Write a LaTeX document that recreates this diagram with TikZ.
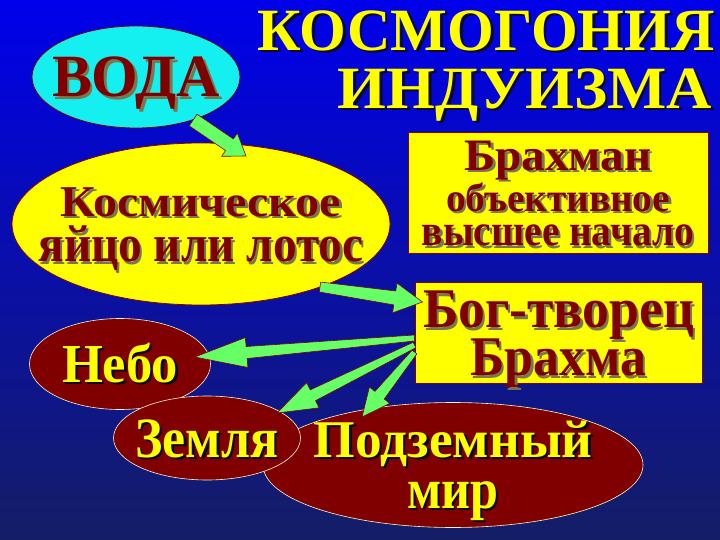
\documentclass[tikz,border=0pt]{standalone}
\usepackage{fontspec}
\setmainfont{Liberation Serif}
\usepackage{graphicx}
\usetikzlibrary{shapes.geometric,calc}
\definecolor{bgtop}{RGB}{0,0,235}
\definecolor{bgmid}{RGB}{5,15,190}
\definecolor{bgbot}{RGB}{20,30,100}
\definecolor{mar}{RGB}{128,0,0}
\definecolor{yel}{RGB}{255,255,0}
\definecolor{cyn}{RGB}{20,240,240}
\definecolor{grn}{RGB}{102,255,102}
\definecolor{shdark}{RGB}{10,10,40}
\definecolor{shgray}{RGB}{120,120,80}
\definecolor{edgelt}{RGB}{255,250,200}

\newsavebox\fitbox
\newlength\fith
\newlength\shoff
\setlength\shoff{2.5bp}
\newcommand\fitw[2]{\sbox\fitbox{#2}\setlength\fith{\ht\fitbox}\resizebox{#1}{\fith}{\usebox\fitbox}}
\newcommand\shtxt[2]{\rlap{\kern\shoff\raisebox{-\shoff}{\textcolor{#1}{#2}}}#2}
\newcommand\mytl[4]{{\bfseries\fontsize{#1bp}{#1bp}\selectfont\fitw{#2bp}{\shtxt{#3}{#4}}}}
\newcommand\cstack[1]{\makebox[0pt]{\vbox{\offinterlineskip\halign{\hfil##\hfil\cr#1}}}}
\newcommand\rstack[1]{\vbox{\offinterlineskip\halign{\hfil##\cr#1}}}
\newcommand\myrow[2]{\noalign{\kern#1bp}\smash{#2}\cr}

% block arrow: #1 start, #2 tip, #3 start half width, #4 shaft half width, #5 head half width, #6 head length
\newcommand\barrow[6]{%
  \path ($(#2)!#6!(#1)$) coordinate (ab);
  \draw[blockarrow] ($(#1)!#3!90:(#2)$) -- ($(ab)!#4!90:(#2)$) -- ($(ab)!#5!90:(#2)$)
    -- (#2) -- ($(ab)!#5!-90:(#2)$) -- ($(ab)!#4!-90:(#2)$) -- ($(#1)!#3!-90:(#2)$) -- cycle;}

\tikzset{
  ell/.style={ellipse, inner sep=0pt, line width=0.8bp},
  darkell/.style={ell, fill=mar, draw=edgelt, line width=0.6bp, text=yel},
  ybox/.style={rectangle, inner sep=0pt, fill=yel, draw=mar, line width=1bp, text=mar},
  blockarrow/.style={fill=grn, draw=mar, line width=0.6bp, line join=round}
}

\begin{document}
\begin{tikzpicture}[x=1bp,y=-1bp]
\useasboundingbox (0,0) rectangle (720,540);
\shade[top color=bgtop, middle color=bgmid, bottom color=bgbot] (0,0) rectangle (720,540);

% title
\node[anchor=north east, inner sep=0pt, text=yel] (title) at (715,10)
  {\rstack{\myrow{40}{\mytl{60}{457}{shdark}{КОСМОГОНИЯ}}\myrow{58}{\mytl{60}{374}{shdark}{ИНДУИЗМА}\kern3bp}}};

% nodes
\node[ell, fill=cyn, draw=mar, text=mar, minimum width=208bp, minimum height=102bp] (vod) at (136,77)
  {\cstack{\myrow{40}{\mytl{60}{168}{shgray}{ВОДА}}}};
\node[ell, fill=yel, draw=mar, text=mar, minimum width=378bp, minimum height=162bp] (yolk) at (201,224)
  {\cstack{\myrow{30}{\mytl{44}{280}{shgray}{Космическое}}\myrow{45}{\mytl{52}{325}{shgray}{яйцо или лотос}}}};
\node[ybox, minimum width=300bp, minimum height=120bp] (brahman) at (558,193)
  {\cstack{\myrow{30}{\mytl{45}{187}{shgray}{Брахман}}\myrow{41}{\mytl{40}{224}{shgray}{объективное}}\myrow{34}{\mytl{44}{272}{shgray}{высшее начало}}}};
\node[ybox, minimum width=287bp, minimum height=100bp] (bog) at (558.5,333)
  {\cstack{\myrow{37}{\mytl{56}{271}{shgray}{Бог-творец}}\myrow{48}{\mytl{56}{176}{shgray}{Брахма}}}};
\node[darkell, minimum width=181bp, minimum height=91bp] (nebo) at (120,364)
  {\cstack{\myrow{36}{\mytl{55}{116}{shdark}{Небо}}}};
\node[darkell, minimum width=380bp, minimum height=125bp] (podz) at (453,465)
  {\cstack{\myrow{35}{\mytl{53}{279}{shdark}{Подземный}}\myrow{51}{\mytl{57}{91}{shdark}{мир}}}};
\node[darkell, minimum width=187bp, minimum height=84bp] (zem) at (207,438)
  {\cstack{\myrow{38}{\mytl{57}{143}{shdark}{Земля}}}};

% connector ends
\coordinate (s1) at (vod.-37);
\coordinate (t1) at ($(yolk.center)+(45,-68)$);
\coordinate (s2) at ($(yolk.center)+(119,63)$);
\coordinate (t2) at ($(bog.west)+(8,-31)$);
\coordinate (s3) at ($(bog.west)+(0,5)$);
\coordinate (t3) at ($(nebo.east)+(-16,-7)$);
\coordinate (s4) at ($(bog.west)+(0,12)$);
\coordinate (t4) at ($(zem.center)+(70,-25)$);
\coordinate (s5) at ($(bog.west)+(0,19)$);
\coordinate (t5) at ($(podz.center)+(-91,-48)$);

\barrow{s1}{t1}{7bp}{7bp}{14bp}{20bp}
\barrow{s2}{t2}{5bp}{7bp}{15bp}{28bp}
\barrow{s3}{t3}{3bp}{6bp}{15bp}{52bp}
\barrow{s4}{t4}{3bp}{6bp}{14bp}{40bp}
\barrow{s5}{t5}{3bp}{6bp}{13bp}{28bp}
\end{tikzpicture}
\end{document}
